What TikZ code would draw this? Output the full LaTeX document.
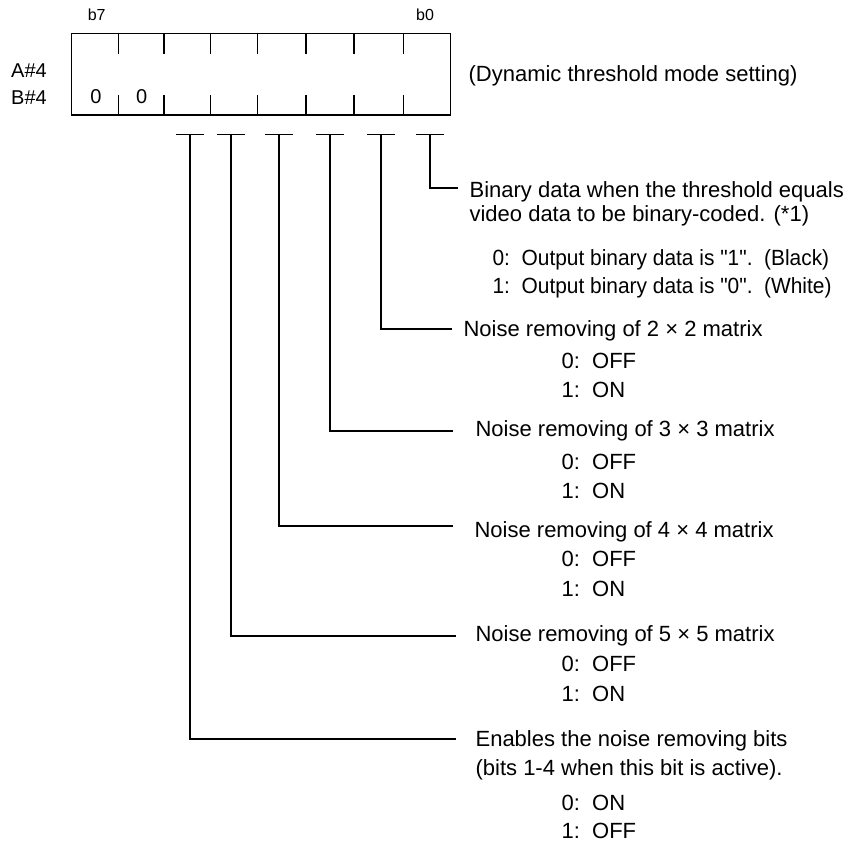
\documentclass[tikz,border=0pt]{standalone}
\usepackage{fontspec}
\setmainfont{Liberation Sans}[Ligatures=TeXOff]
\begin{document}
\begin{tikzpicture}[x=1pt,y=-1pt,line width=1.2pt,
  txt/.style={anchor=base west,inner sep=0pt,font=\fontsize{22}{26}\selectfont},
  narrow/.style={txt,font=\fontsize{22}{26}\selectfont\addfontfeatures{FakeStretch=0.95}},
  lbl/.style={anchor=center,inner sep=0pt,font=\fontsize{20}{24}\selectfont},
  small/.style={anchor=center,inner sep=0pt,font=\fontsize{16}{19}\selectfont},
  lead/.style={line width=1.2pt}]
\useasboundingbox (0,0) rectangle (845,844);
% register
\node[draw,line width=1.2pt,minimum width=379pt,minimum height=81.7pt,inner sep=0pt] (reg) at (261.2,74.15) {};
\foreach \x in {118.3,164,210.3,257.3,306,354,403.3}{
  \draw (\x,33.3) -- (\x,54.3);
  \draw (\x,95) -- (\x,115);
}
\node[small] (b7) at (96.7,15) {b7};
\node[small] (b0) at (425,15) {b0};
\node[lbl] (a4) at (29,71) {A\#4};
\node[lbl] (bb4) at (29,98) {B\#4};
\node[lbl] (z7) at (96,97) {0};
\node[lbl] (z6) at (141.7,97) {0};
\node[txt] (title) at (468,81) {(Dynamic threshold mode setting)};
% T bars
\foreach \n/\x in {0/430,1/381,2/330,3/279,4/231,5/190}{
  \coordinate (s\n) at (\x,134.5);
  \draw ([xshift=-14pt]s\n) -- ([xshift=14pt]s\n);
}
\coordinate (e0) at (458,188);
\coordinate (e1) at (452,329);
\coordinate (e2) at (453,431);
\coordinate (e3) at (453,526);
\coordinate (e4) at (456,636);
\coordinate (e5) at (456,739);
\foreach \n in {0,...,5}{\draw[lead] (s\n) |- (e\n);}
% texts
\node[txt] (t0a) at (469,197) {Binary data when the threshold equals};
\node[txt] (t0b) at (469,221) {video data to be binary-coded. (*1)};
\node[narrow] (t0c) at (492,265) {0:\ \ Output binary data is "1".\ \ (Black)};
\node[narrow] (t0d) at (492,293) {1:\ \ Output binary data is "0".\ \ (White)};
\node[txt] (t1a) at (463,336) {Noise removing of 2 × 2 matrix};
\node[txt] (t1b) at (561,368) {0:\ \ OFF};
\node[txt] (t1c) at (561,397) {1:\ \ ON};
\node[txt] (t2a) at (475,436) {Noise removing of 3 × 3 matrix};
\node[txt] (t2b) at (561,469) {0:\ \ OFF};
\node[txt] (t2c) at (561,498) {1:\ \ ON};
\node[txt] (t3a) at (474,537) {Noise removing of 4 × 4 matrix};
\node[txt] (t3b) at (561,566) {0:\ \ OFF};
\node[txt] (t3c) at (561,596) {1:\ \ ON};
\node[txt] (t4a) at (475,641) {Noise removing of 5 × 5 matrix};
\node[txt] (t4b) at (561,671) {0:\ \ OFF};
\node[txt] (t4c) at (561,701) {1:\ \ ON};
\node[txt] (t5a) at (475,746) {Enables the noise removing bits};
\node[txt] (t5b) at (475,775) {(bits 1-4 when this bit is active).};
\node[txt] (t5c) at (561,810) {0:\ \ ON};
\node[txt] (t5d) at (561,838) {1:\ \ OFF};
\end{tikzpicture}
\end{document}
